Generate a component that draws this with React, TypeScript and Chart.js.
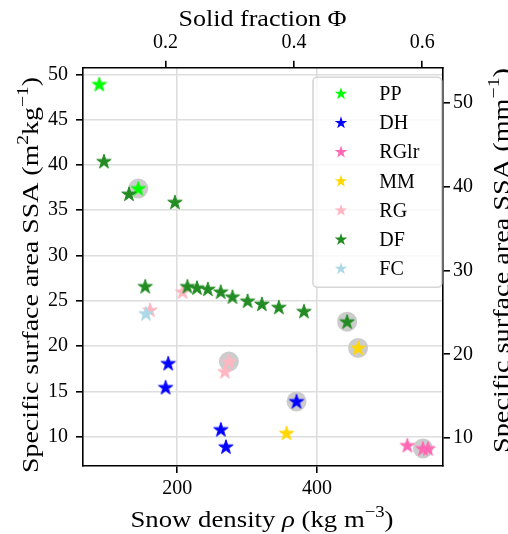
import React, { useEffect, useRef } from 'react';
import { Chart, registerables } from 'chart.js';

Chart.register(...registerables);

// ---------------- data ----------------
const seriesNames = ['PP', 'DH', 'RGlr', 'MM', 'RG', 'DF', 'FC'];
const seriesColors = ['#00ff00', '#0000ff', '#ff69b4', '#ffd700', '#ffb6c1', '#228b22', '#add8e6'];

const ppDensity = [88.6, 144.3];
const ppSSA = [48.9, 37.4];
const dhDensity = [187.1, 183.4, 370.6, 262.4, 269.6];
const dhSSA = [18.1, 15.45, 13.9, 10.8, 8.9];
const rglrDensity = [529.0, 551.4, 558.6];
const rglrSSA = [9.05, 8.7, 8.7];
const mmDensity = [356.3, 458.6];
const mmSSA = [10.4, 19.8];
const rgDensity = [161.0, 207.7, 273.9, 268.1];
const rgSSA = [24.0, 26.0, 18.3, 17.2];
const dfDensity = [95.3, 131.0, 196.7, 154.3, 214.6, 228.2, 243.8, 262.2, 279.0, 300.6, 321.0, 345.3, 381.2, 442.9];
const dfSSA = [40.4, 36.8, 35.9, 26.6, 26.6, 26.45, 26.3, 26.0, 25.45, 25.0, 24.65, 24.3, 23.85, 22.7];
const fcDensity = [155.3];
const fcSSA = [23.6];

const highlightDensity = [144.3, 442.9, 458.6, 273.9, 370.6, 551.4];
const highlightSSA = [37.4, 22.7, 19.8, 18.3, 13.9, 8.7];

const densityTicks = [200, 400];
const fractionTicks = [0.2, 0.4, 0.6];
const ssaTicks = [10, 15, 20, 25, 30, 35, 40, 45, 50];
const ssaVolTicks = [10, 20, 30, 40, 50];

const ICE_DENSITY = 917;
const densityRange = [65.3, 580];
const ssaRange = [6.77, 50.73];
const ssaVolRange = [6.67, 54.2];

const seriesDensity = [ppDensity, dhDensity, rglrDensity, mmDensity, rgDensity, dfDensity, fcDensity];
const seriesSSA = [ppSSA, dhSSA, rglrSSA, mmSSA, rgSSA, dfSSA, fcSSA];

// ---------------- helpers ----------------
const FONT = '"Liberation Serif", "DejaVu Serif", serif';

function starPath(ctx: CanvasRenderingContext2D, cx: number, cy: number, R: number) {
  const r = R * 0.381966;
  ctx.beginPath();
  for (let i = 0; i < 10; i++) {
    const a = -Math.PI / 2 + (i * Math.PI) / 5;
    const rr = i % 2 === 0 ? R : r;
    const px = cx + rr * Math.cos(a);
    const py = cy + rr * Math.sin(a);
    if (i === 0) ctx.moveTo(px, py);
    else ctx.lineTo(px, py);
  }
  ctx.closePath();
}

function makeStar(color: string, R: number) {
  const size = 2 * Math.ceil(R + 2);
  const c = document.createElement('canvas');
  c.width = size;
  c.height = size;
  const ctx = c.getContext('2d')!;
  starPath(ctx, size / 2, size / 2 + 0.5, R);
  ctx.fillStyle = color;
  ctx.fill();
  ctx.strokeStyle = color;
  ctx.lineWidth = 1;
  ctx.lineJoin = 'round';
  ctx.stroke();
  return c;
}

type Seg = { t: string; it?: boolean; sup?: boolean };

function drawRich(
  ctx: CanvasRenderingContext2D,
  segs: Seg[],
  cx: number,
  baseline: number,
  rot: number,
  targetWidth: number,
  size: number
) {
  const fontFor = (s: Seg) => `${s.it ? 'italic ' : ''}${s.sup ? size * 0.7 : size}px ${FONT}`;
  const widths = segs.map((s) => {
    ctx.font = fontFor(s);
    return ctx.measureText(s.t).width;
  });
  const total = widths.reduce((a, b) => a + b, 0);
  const sx = targetWidth / total;
  ctx.save();
  ctx.translate(cx, baseline);
  ctx.rotate(rot);
  ctx.scale(sx, 1);
  ctx.fillStyle = '#000';
  ctx.textBaseline = 'alphabetic';
  ctx.textAlign = 'left';
  let x = -total / 2;
  segs.forEach((s, i) => {
    ctx.font = fontFor(s);
    ctx.fillText(s.t, x, s.sup ? -size * 0.42 : 0);
    x += widths[i];
  });
  ctx.restore();
}

const bottomTitle: Seg[] = [
  { t: 'Snow density ' },
  { t: 'ρ', it: true },
  { t: ' (kg m' },
  { t: '−3', sup: true },
  { t: ')' },
];
const topTitle: Seg[] = [{ t: 'Solid fraction Φ' }];
const leftTitle: Seg[] = [
  { t: 'Specific surface area SSA (m' },
  { t: '2', sup: true },
  { t: 'kg' },
  { t: '−1', sup: true },
  { t: ')' },
];
const rightTitle: Seg[] = [
  { t: 'Specific surface area SSA (mm' },
  { t: '−1', sup: true },
  { t: ')' },
];

const overlayPlugin = {
  id: 'overlay',
  afterDraw(chart: any) {
    const ctx: CanvasRenderingContext2D = chart.ctx;
    drawRich(ctx, topTitle, 262.5, 25.5, 0, 168, 24);
    drawRich(ctx, bottomTitle, 262, 527, 0, 263, 24);
    drawRich(ctx, leftTitle, 38, 275, -Math.PI / 2, 396, 24);
    drawRich(ctx, rightTitle, 509, 260.5, -Math.PI / 2, 385, 24);

    // legend
    const bx = 313, by = 77.3, bw = 128.7, bh = 210, rad = 4;
    ctx.save();
    ctx.beginPath();
    ctx.moveTo(bx + rad, by);
    ctx.arcTo(bx + bw, by, bx + bw, by + bh, rad);
    ctx.arcTo(bx + bw, by + bh, bx, by + bh, rad);
    ctx.arcTo(bx, by + bh, bx, by, rad);
    ctx.arcTo(bx, by, bx + bw, by, rad);
    ctx.closePath();
    ctx.fillStyle = 'rgba(255,255,255,0.8)';
    ctx.fill();
    ctx.strokeStyle = '#d6d6d6';
    ctx.lineWidth = 1.6;
    ctx.stroke();
    seriesNames.forEach((name, i) => {
      const cy = 93.3 + i * 29.17;
      starPath(ctx, 341, cy + 0.5, 6.6);
      ctx.fillStyle = seriesColors[i];
      ctx.fill();
      ctx.fillStyle = '#000';
      ctx.font = `20px ${FONT}`;
      ctx.textAlign = 'left';
      ctx.textBaseline = 'alphabetic';
      ctx.fillText(name, 379.3, cy + 6.8);
    });
    ctx.restore();
  },
};

const tickFont = { family: FONT, size: 20 };
const axisBorder = { display: true, color: '#000', width: 1.6 };

export default function App() {
  const ref = useRef<HTMLCanvasElement>(null);

  useEffect(() => {
    const datasets: any[] = seriesNames.map((name, i) => ({
      label: name,
      data: seriesDensity[i].map((x, j) => ({ x, y: seriesSSA[i][j] })),
      pointStyle: makeStar(seriesColors[i], 7.6),
      pointRadius: 7,
      backgroundColor: seriesColors[i],
      borderColor: seriesColors[i],
      showLine: false,
      order: seriesNames.length - i,
      xAxisID: 'x',
      yAxisID: 'y',
    }));
    datasets.push({
      label: 'highlight',
      data: highlightDensity.map((x, j) => ({ x, y: highlightSSA[j] })),
      pointStyle: 'circle',
      pointRadius: 10,
      backgroundColor: '#cccccc',
      borderWidth: 0,
      showLine: false,
      order: 100,
      xAxisID: 'x',
      yAxisID: 'y',
    });

    const chart = new Chart(ref.current!, {
      type: 'scatter',
      data: { datasets },
      plugins: [overlayPlugin],
      options: {
        animation: false,
        responsive: false,
        devicePixelRatio: 1,
        layout: { padding: 0 },
        plugins: { legend: { display: false }, tooltip: { enabled: false }, title: { display: false } },
        scales: {
          x: {
            type: 'linear',
            position: 'bottom',
            min: densityRange[0],
            max: densityRange[1],
            afterBuildTicks: (s: any) => {
              s.ticks = densityTicks.map((v) => ({ value: v }));
            },
            afterFit: (s: any) => {
              s.height = 68;
            },
            ticks: { font: tickFont, color: '#000', padding: 4, maxRotation: 0, autoSkip: false, callback: (v: any) => String(v) },
            grid: { color: '#dddddd', lineWidth: 1.6, tickColor: '#000', tickLength: 7, tickWidth: 1.6 },
            border: axisBorder,
          },
          xTop: {
            type: 'linear',
            position: 'top',
            min: densityRange[0] / ICE_DENSITY,
            max: densityRange[1] / ICE_DENSITY,
            afterBuildTicks: (s: any) => {
              s.ticks = fractionTicks.map((v) => ({ value: v }));
            },
            afterFit: (s: any) => {
              s.height = 67.7;
            },
            ticks: { font: tickFont, color: '#000', padding: 6, maxRotation: 0, autoSkip: false, callback: (v: any) => Number(v).toFixed(1) },
            grid: { drawOnChartArea: false, lineWidth: 1.6, tickColor: '#000', tickLength: 7, tickWidth: 1.6 },
            border: axisBorder,
          },
          y: {
            type: 'linear',
            position: 'left',
            min: ssaRange[0],
            max: ssaRange[1],
            afterBuildTicks: (s: any) => {
              s.ticks = ssaTicks.map((v) => ({ value: v }));
            },
            afterFit: (s: any) => {
              s.width = 83;
            },
            ticks: { font: tickFont, color: '#000', padding: 8, autoSkip: false, callback: (v: any) => String(v) },
            grid: { color: '#dddddd', lineWidth: 1.6, tickColor: '#000', tickLength: 7, tickWidth: 1.6 },
            border: axisBorder,
          },
          y2: {
            type: 'linear',
            position: 'right',
            min: ssaVolRange[0],
            max: ssaVolRange[1],
            afterBuildTicks: (s: any) => {
              s.ticks = ssaVolTicks.map((v) => ({ value: v }));
            },
            afterFit: (s: any) => {
              s.width = 65;
            },
            ticks: { font: tickFont, color: '#000', padding: 3, autoSkip: false, callback: (v: any) => String(v) },
            grid: { drawOnChartArea: false, lineWidth: 1.6, tickColor: '#000', tickLength: 7, tickWidth: 1.6 },
            border: axisBorder,
          },
        },
      } as any,
    });
    return () => chart.destroy();
  }, []);

  return (
    <div style={{ position: 'fixed', left: 0, top: 0, width: 508, height: 534, background: '#fff' }}>
      <canvas ref={ref} width={508} height={534} style={{ display: 'block', width: 508, height: 534 }} />
    </div>
  );
}
